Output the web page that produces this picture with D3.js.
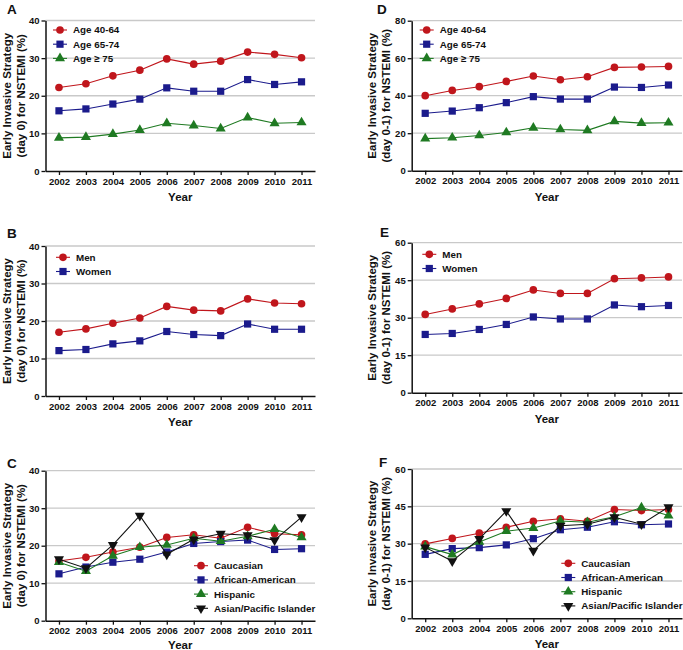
<!DOCTYPE html>
<html>
<head>
<meta charset="utf-8">
<script src="https://cdn.jsdelivr.net/npm/d3@7"></script>
<style>
  body { margin: 0; background: #fff; }
  text { font-family: "Liberation Sans", Arial, sans-serif; font-weight: bold; fill: #111; }
</style>
</head>
<body>
<div id="chart"></div>
<script>
// years on the x axis
var years = [2002, 2003, 2004, 2005, 2006, 2007, 2008, 2009, 2010, 2011];

// y tick labels
var ticks40 = [0, 10, 20, 30, 40];
var ticks80 = [0, 20, 40, 60, 80];
var ticks60 = [0, 15, 30, 45, 60];

// A: age groups, day 0
var age4064Day0 = [22.2, 23.2, 25.3, 26.8, 29.8, 28.4, 29.2, 31.6, 31.0, 30.1];
var age6574Day0 = [16.0, 16.5, 17.8, 19.1, 22.1, 21.2, 21.2, 24.3, 23.0, 23.7];
var age75Day0 = [8.8, 9.0, 9.8, 10.9, 12.7, 12.1, 11.3, 14.2, 12.7, 12.9];

// D: age groups, day 0-1
var age4064Day01 = [40.0, 42.8, 44.8, 47.6, 50.5, 48.5, 50.1, 55.1, 55.3, 55.6];
var age6574Day01 = [30.6, 31.8, 33.6, 36.3, 39.5, 38.2, 38.2, 44.6, 44.4, 45.7];
var age75Day01 = [17.1, 17.6, 18.8, 20.4, 22.9, 22.0, 21.5, 26.3, 25.4, 25.6];

// B: sex, day 0
var menDay0 = [17.0, 17.9, 19.4, 20.8, 23.9, 22.9, 22.7, 25.9, 24.8, 24.6];
var womenDay0 = [12.1, 12.4, 13.9, 14.7, 17.2, 16.4, 16.1, 19.2, 17.8, 17.8];

// E: sex, day 0-1
var menDay01 = [31.3, 33.5, 35.5, 37.7, 41.1, 39.7, 39.7, 45.6, 45.9, 46.3];
var womenDay01 = [23.3, 23.7, 25.3, 27.3, 30.3, 29.5, 29.5, 35.1, 34.4, 34.9];

// C: race, day 0
var caucDay0 = [15.9, 16.9, 18.3, 19.6, 22.2, 22.9, 22.0, 24.9, 23.2, 22.9];
var afamDay0 = [12.5, 14.3, 15.6, 16.4, 18.3, 20.6, 21.1, 21.5, 19.0, 19.2];
var hispDay0 = [15.6, 13.2, 17.3, 19.6, 20.2, 22.0, 21.2, 22.5, 24.4, 22.2];
var asianDay0 = [16.4, 14.0, 20.2, 28.0, 17.7, 21.7, 23.2, 22.8, 21.5, 27.6];

// F: race, day 0-1
var caucDay01 = [29.9, 32.1, 34.2, 36.6, 39.0, 40.0, 39.0, 43.7, 43.3, 43.7];
var afamDay01 = [25.7, 28.0, 28.4, 29.5, 32.0, 35.6, 36.6, 38.8, 37.6, 37.9];
var hispDay01 = [28.8, 25.6, 30.7, 35.0, 36.3, 39.1, 38.6, 40.8, 44.5, 41.3];
var asianDay01 = [28.5, 23.0, 31.9, 43.1, 27.2, 37.2, 37.8, 40.6, 37.8, 44.7];

var red = "#c0161c", blue = "#1b1b8c", green = "#1f7a22", black = "#111";

var svg = d3.select("#chart")
    .append("svg")
    .attr("width", 683)
    .attr("height", 650);

var panels = [
    { letter: "A", lx: 7, ly: 14, left: 45.5, right: 315, bottom: 171, top: 20.5, max: 40, ticks: ticks40,
      title2: "(day 0) for NSTEMI (%)", tx: 10.5, legX: 60, legY: 30,
      series: [
        { name: "Age 40-64", values: age4064Day0, color: red, sym: "circle" },
        { name: "Age 65-74", values: age6574Day0, color: blue, sym: "square" },
        { name: "Age \u2265 75", values: age75Day0, color: green, sym: "triangle" }] },
    { letter: "D", lx: 377, ly: 14, left: 411.7, right: 682, bottom: 170.7, top: 20.7, max: 80, ticks: ticks80,
      title2: "(day 0-1) for NSTEMI (%)", tx: 375.5, legX: 426.7, legY: 30,
      series: [
        { name: "Age 40-64", values: age4064Day01, color: red, sym: "circle" },
        { name: "Age 65-74", values: age6574Day01, color: blue, sym: "square" },
        { name: "Age \u2265 75", values: age75Day01, color: green, sym: "triangle" }] },
    { letter: "B", lx: 7, ly: 237.5, left: 45.5, right: 315, bottom: 396, top: 246, max: 40, ticks: ticks40,
      title2: "(day 0) for NSTEMI (%)", tx: 10.5, legX: 63, legY: 257.3,
      series: [
        { name: "Men", values: menDay0, color: red, sym: "circle" },
        { name: "Women", values: womenDay0, color: blue, sym: "square" }] },
    { letter: "E", lx: 380, ly: 236.7, left: 411.7, right: 682, bottom: 392.7, top: 242.7, max: 60, ticks: ticks60,
      title2: "(day 0-1) for NSTEMI (%)", tx: 375.5, legX: 429.3, legY: 254.3,
      series: [
        { name: "Men", values: menDay01, color: red, sym: "circle" },
        { name: "Women", values: womenDay01, color: blue, sym: "square" }] },
    { letter: "C", lx: 7, ly: 467.5, left: 45.5, right: 315, bottom: 620.7, top: 470.7, max: 40, ticks: ticks40,
      title2: "(day 0) for NSTEMI (%)", tx: 10.5, legX: 201, legY: 565.7,
      series: [
        { name: "Caucasian", values: caucDay0, color: red, sym: "circle" },
        { name: "African-American", values: afamDay0, color: blue, sym: "square" },
        { name: "Hispanic", values: hispDay0, color: green, sym: "triangle" },
        { name: "Asian/Pacific Islander", values: asianDay0, color: black, sym: "down" }] },
    { letter: "F", lx: 379, ly: 466.7, left: 411.7, right: 682, bottom: 618.3, top: 469, max: 60, ticks: ticks60,
      title2: "(day 0-1) for NSTEMI (%)", tx: 375.5, legX: 568.3, legY: 563.3,
      series: [
        { name: "Caucasian", values: caucDay01, color: red, sym: "circle" },
        { name: "African-American", values: afamDay01, color: blue, sym: "square" },
        { name: "Hispanic", values: hispDay01, color: green, sym: "triangle" },
        { name: "Asian/Pacific Islander", values: asianDay01, color: black, sym: "down" }] }
];

function symbolPath(sym) {
    if (sym === "circle") return d3.symbol(d3.symbolCircle, 46)();
    if (sym === "square") return d3.symbol(d3.symbolSquare, 52)();
    return d3.symbol(d3.symbolTriangle, 44)();
}

panels.forEach(function (p) {
    var g = svg.append("g");

    var x = d3.scalePoint()
        .domain(years)
        .range([p.left, p.right])
        .padding(0.5);

    var y = d3.scaleLinear()
        .domain([0, p.max])
        .range([p.bottom, p.top]);

    // gridlines
    g.selectAll("grid")
        .data(p.ticks.slice(1))
        .enter()
        .append("line")
        .attr("x1", p.left)
        .attr("x2", p.right)
        .attr("y1", function (d) { return y(d); })
        .attr("y2", function (d) { return y(d); })
        .attr("stroke", "#c9c9c9")
        .attr("stroke-width", 1.3);

    // X axis
    var xAxis = g.append("g")
        .attr("transform", "translate(0," + p.bottom + ")")
        .call(d3.axisBottom(x).tickSize(4).tickPadding(3).tickSizeOuter(0));
    xAxis.select(".domain").attr("stroke", "#111").attr("stroke-width", 1.5);
    xAxis.selectAll(".tick line").attr("stroke", "#111").attr("stroke-width", 1.3);
    xAxis.selectAll("text").style("font-size", "9.5px").attr("fill", "#111");

    // Y axis
    var yAxis = g.append("g")
        .attr("transform", "translate(" + p.left + ",0)")
        .call(d3.axisLeft(y).tickValues(p.ticks).tickSize(4).tickPadding(2).tickSizeOuter(0));
    yAxis.select(".domain").attr("stroke", "#111").attr("stroke-width", 1.5);
    yAxis.selectAll(".tick line").attr("stroke", "#111").attr("stroke-width", 1.3);
    yAxis.selectAll("text").style("font-size", "9.5px").attr("fill", "#111");

    // axis titles
    var cy = (p.top + p.bottom) / 2;
    g.append("text")
        .attr("transform", "translate(" + p.tx + "," + cy + ") rotate(-90)")
        .attr("text-anchor", "middle")
        .style("font-size", "11.5px")
        .text("Early Invasive Strategy");
    g.append("text")
        .attr("transform", "translate(" + (p.tx + 14) + "," + cy + ") rotate(-90)")
        .attr("text-anchor", "middle")
        .style("font-size", "11.5px")
        .text(p.title2);
    g.append("text")
        .attr("x", (p.left + p.right) / 2)
        .attr("y", Math.min(p.bottom + 30, 648.5))
        .attr("text-anchor", "middle")
        .style("font-size", "11.5px")
        .text("Year");

    // panel letter
    g.append("text")
        .attr("x", p.lx)
        .attr("y", p.ly)
        .style("font-size", "13.5px")
        .text(p.letter);

    // lines and markers
    var line = d3.line()
        .x(function (d, i) { return x(years[i]); })
        .y(function (d) { return y(d); });

    p.series.forEach(function (s) {
        g.append("path")
            .datum(s.values)
            .attr("d", line)
            .attr("fill", "none")
            .attr("stroke", s.color)
            .attr("stroke-width", 1.1);

        g.selectAll("mark")
            .data(s.values)
            .enter()
            .append("path")
            .attr("d", symbolPath(s.sym))
            .attr("transform", function (d, i) {
                return "translate(" + x(years[i]) + "," + y(d) + ")" + (s.sym === "down" ? " rotate(180)" : "");
            })
            .attr("fill", s.color);
    });

    // legend
    var leg = g.selectAll("legend")
        .data(p.series)
        .enter()
        .append("g")
        .attr("transform", function (d, i) { return "translate(" + p.legX + "," + (p.legY + i * 14.2) + ")"; });
    leg.append("line")
        .attr("x1", -7)
        .attr("x2", 7)
        .attr("stroke", function (d) { return d.color; })
        .attr("stroke-width", 1.1);
    leg.append("path")
        .attr("d", function (d) { return symbolPath(d.sym); })
        .attr("transform", function (d) { return d.sym === "down" ? "rotate(180)" : null; })
        .attr("fill", function (d) { return d.color; });
    leg.append("text")
        .attr("x", 13)
        .attr("dy", "0.35em")
        .style("font-size", "9.8px")
        .text(function (d) { return d.name; });
});
</script>
</body>
</html>
